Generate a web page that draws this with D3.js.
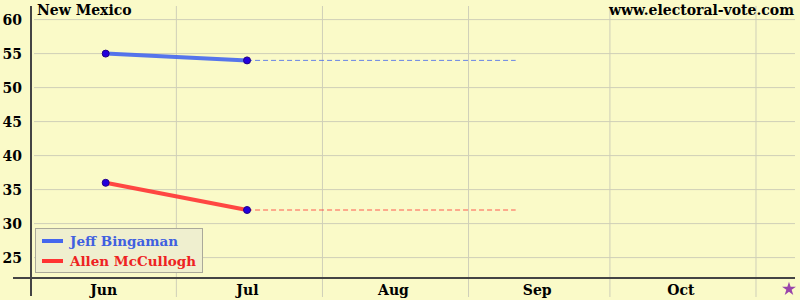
<!DOCTYPE html>
<html>
<head>
<meta charset="utf-8">
<script src="https://cdn.jsdelivr.net/npm/d3@7"></script>
<style>
body { margin: 0; background: #fafac8; }
svg { display: block; font-family: "DejaVu Serif", serif; font-weight: bold; }
</style>
</head>
<body>
<script>
// poll data (percent)
let pollDates = ["2000-06-16", "2000-07-16"];
let bingaman = [55, 54];
let mccullogh = [36, 32];
let candidates = ["Jeff Bingaman", "Allen McCullogh"];
let colors = ["#4466ee", "#ff3333"];
let yTicks = [25, 30, 35, 40, 45, 50, 55, 60];
let monthStarts = ["2000-06-01", "2000-07-01", "2000-08-01", "2000-09-01", "2000-10-01", "2000-11-01"];
let monthLabels = ["Jun", "Jul", "Aug", "Sep", "Oct"];
let projectUntil = "2000-09-11";
let electionDay = "2000-11-08";

let parse = d3.timeParse("%Y-%m-%d");
let width = 800, height = 300;

let svg = d3.select("body").append("svg")
    .attr("width", width)
    .attr("height", height);

let x = d3.scaleTime()
    .domain([parse("2000-06-01"), parse("2000-11-01")])
    .range([35, 756]);

let y = d3.scaleLinear()
    .domain([22, 62])
    .range([278, 6]);

// background
svg.append("rect").attr("width", width).attr("height", height).attr("fill", "#fafac8");

// grid
svg.selectAll(".hgrid").data(yTicks).enter().append("line")
    .attr("x1", 34).attr("x2", 795)
    .attr("y1", d => y(d)).attr("y2", d => y(d))
    .attr("stroke", "#cfcfb8").attr("stroke-width", 1);

svg.selectAll(".vgrid").data(monthStarts.slice(1)).enter().append("line")
    .attr("x1", d => x(parse(d))).attr("x2", d => x(parse(d)))
    .attr("y1", 6).attr("y2", 297)
    .attr("stroke", "#cfcfb8").attr("stroke-width", 1);

// axes
svg.append("line").attr("x1", 31).attr("x2", 31).attr("y1", 6).attr("y2", 296)
    .attr("stroke", "#444").attr("stroke-width", 2);
svg.append("line").attr("x1", 13).attr("x2", 795).attr("y1", 278).attr("y2", 278)
    .attr("stroke", "#444").attr("stroke-width", 2);

svg.selectAll(".ylab").data(yTicks).enter().append("text")
    .attr("x", 22).attr("y", d => y(d) + 5)
    .attr("text-anchor", "end")
    .style("font-size", "14px")
    .text(d => d);

svg.selectAll(".xlab").data(monthLabels).enter().append("text")
    .attr("x", (d, i) => (x(parse(monthStarts[i])) + x(parse(monthStarts[i + 1]))) / 2 - 2)
    .attr("y", 295)
    .attr("text-anchor", "middle")
    .style("font-size", "14px")
    .text(d => d);

// election day star
svg.append("path")
    .attr("d", d3.symbol().type(d3.symbolStar).size(60))
    .attr("transform", "translate(" + x(parse(electionDay)) + ",289)")
    .attr("fill", "#9944aa");

// series
let series = [bingaman, mccullogh];
let line = d3.line().x(d => x(d.date)).y(d => y(d.v));

series.forEach(function(vals, k) {
    let pts = vals.map((v, i) => ({date: parse(pollDates[i]), v: v}));
    let last = pts[pts.length - 1];
    svg.append("path")
        .datum([last, {date: parse(projectUntil), v: last.v}])
        .attr("d", line)
        .attr("fill", "none")
        .attr("stroke", colors[k])
        .attr("stroke-width", 1)
        .attr("stroke-dasharray", "5,3")
        .attr("opacity", 0.8);
    svg.append("path")
        .datum(pts)
        .attr("d", line)
        .attr("fill", "none")
        .attr("stroke", colors[k])
        .attr("stroke-width", 4)
        .attr("opacity", 0.9);
    svg.selectAll(".pt" + k).data(pts).enter().append("circle")
        .attr("cx", d => x(d.date)).attr("cy", d => y(d.v))
        .attr("r", 3.5)
        .attr("fill", "#2200dd")
        .attr("stroke", "#220088")
        .attr("stroke-width", 1);
});

// titles
svg.append("text").attr("x", 37).attr("y", 15)
    .style("font-size", "14px").text("New Mexico");
svg.append("text").attr("x", 794).attr("y", 15)
    .attr("text-anchor", "end")
    .style("font-size", "14px").text("www.electoral-vote.com");

// legend
let legend = svg.append("g");
legend.append("rect")
    .attr("x", 35.5).attr("y", 228.5).attr("width", 167).attr("height", 44)
    .attr("fill", "#efefcf").attr("stroke", "#aaa99a");
candidates.forEach(function(name, k) {
    legend.append("line")
        .attr("x1", 42).attr("x2", 63)
        .attr("y1", 241 + k * 20).attr("y2", 241 + k * 20)
        .attr("stroke", colors[k]).attr("stroke-width", 4);
    legend.append("text")
        .attr("x", 70).attr("y", 246 + k * 20)
        .attr("fill", k === 0 ? "#4060e0" : "#ee2222")
        .style("font-size", "13.5px")
        .text(name);
});
</script>
</body>
</html>
